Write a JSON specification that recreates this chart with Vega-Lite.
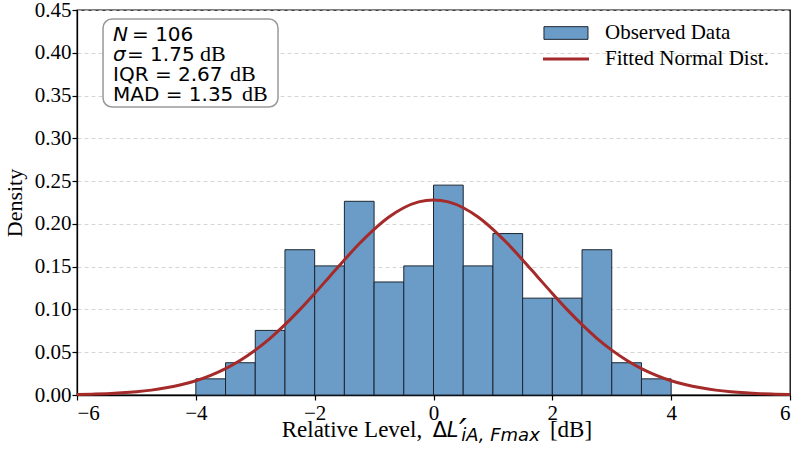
{
  "$schema": "https://vega.github.io/schema/vega-lite/v6.json",
  "width": 713,
  "height": 385,
  "autosize": {"type": "none"},
  "padding": {"left": 77, "top": 10, "right": 10, "bottom": 59},
  "background": "white",
  "config": {
    "view": {"stroke": "#000000", "strokeWidth": 1.3},
    "axis": {
      "labelFont": "Liberation Serif",
      "labelFontSize": 21,
      "labelColor": "#000000",
      "titleFont": "Liberation Serif",
      "titleFontSize": 22,
      "titleFontWeight": "normal",
      "titleColor": "#000000",
      "domainColor": "#000000",
      "domainWidth": 1.3,
      "tickColor": "#000000",
      "tickSize": 5,
      "tickWidth": 1.2
    }
  },
  "datasets": {
    "bins": [
      {"bin_start": -4.0, "bin_end": -3.5, "density": 0.0189},
      {"bin_start": -3.5, "bin_end": -3.0, "density": 0.0377},
      {"bin_start": -3.0, "bin_end": -2.5, "density": 0.0755},
      {"bin_start": -2.5, "bin_end": -2.0, "density": 0.1698},
      {"bin_start": -2.0, "bin_end": -1.5, "density": 0.1509},
      {"bin_start": -1.5, "bin_end": -1.0, "density": 0.2264},
      {"bin_start": -1.0, "bin_end": -0.5, "density": 0.1321},
      {"bin_start": -0.5, "bin_end": 0.0, "density": 0.1509},
      {"bin_start": 0.0, "bin_end": 0.5, "density": 0.2453},
      {"bin_start": 0.5, "bin_end": 1.0, "density": 0.1509},
      {"bin_start": 1.0, "bin_end": 1.5, "density": 0.1887},
      {"bin_start": 1.5, "bin_end": 2.0, "density": 0.1132},
      {"bin_start": 2.0, "bin_end": 2.5, "density": 0.1132},
      {"bin_start": 2.5, "bin_end": 3.0, "density": 0.1698},
      {"bin_start": 3.0, "bin_end": 3.5, "density": 0.0377},
      {"bin_start": 3.5, "bin_end": 4.0, "density": 0.0189}
    ],
    "curve": [
      {"x": -6.0, "pdf": 0.0006}, {"x": -5.75, "pdf": 0.0010}, {"x": -5.5, "pdf": 0.0016},
      {"x": -5.25, "pdf": 0.0025}, {"x": -5.0, "pdf": 0.0038}, {"x": -4.75, "pdf": 0.0057},
      {"x": -4.5, "pdf": 0.0084}, {"x": -4.25, "pdf": 0.0119}, {"x": -4.0, "pdf": 0.0167},
      {"x": -3.75, "pdf": 0.0230}, {"x": -3.5, "pdf": 0.0309}, {"x": -3.25, "pdf": 0.0407},
      {"x": -3.0, "pdf": 0.0525}, {"x": -2.75, "pdf": 0.0663}, {"x": -2.5, "pdf": 0.0822},
      {"x": -2.25, "pdf": 0.0998}, {"x": -2.0, "pdf": 0.1187}, {"x": -1.75, "pdf": 0.1383},
      {"x": -1.5, "pdf": 0.1579}, {"x": -1.25, "pdf": 0.1767}, {"x": -1.0, "pdf": 0.1936},
      {"x": -0.75, "pdf": 0.2080}, {"x": -0.5, "pdf": 0.2189}, {"x": -0.25, "pdf": 0.2257},
      {"x": 0.0, "pdf": 0.2280}, {"x": 0.25, "pdf": 0.2257}, {"x": 0.5, "pdf": 0.2189},
      {"x": 0.75, "pdf": 0.2080}, {"x": 1.0, "pdf": 0.1936}, {"x": 1.25, "pdf": 0.1767},
      {"x": 1.5, "pdf": 0.1579}, {"x": 1.75, "pdf": 0.1383}, {"x": 2.0, "pdf": 0.1187},
      {"x": 2.25, "pdf": 0.0998}, {"x": 2.5, "pdf": 0.0822}, {"x": 2.75, "pdf": 0.0663},
      {"x": 3.0, "pdf": 0.0525}, {"x": 3.25, "pdf": 0.0407}, {"x": 3.5, "pdf": 0.0309},
      {"x": 3.75, "pdf": 0.0230}, {"x": 4.0, "pdf": 0.0167}, {"x": 4.25, "pdf": 0.0119},
      {"x": 4.5, "pdf": 0.0084}, {"x": 4.75, "pdf": 0.0057}, {"x": 5.0, "pdf": 0.0038},
      {"x": 5.25, "pdf": 0.0025}, {"x": 5.5, "pdf": 0.0016}, {"x": 5.75, "pdf": 0.0010},
      {"x": 6.0, "pdf": 0.0006}
    ],
    "box": [{"x1": -5.562, "x2": -2.617, "y1": 0.3366, "y2": 0.4395}],
    "statsItalic": [
      {"x": -5.394, "y": 0.4137, "t": "N"},
      {"x": -5.394, "y": 0.3904, "t": "σ"}
    ],
    "statsMain": [
      {"x": -5.074, "y": 0.4137, "t": "= 106"},
      {"x": -5.159, "y": 0.3904, "t": "= 1.75"},
      {"x": -5.394, "y": 0.3671, "t": "IQR = 2.67"},
      {"x": -5.394, "y": 0.3437, "t": "MAD = 1.35"}
    ],
    "statsUnit": [
      {"x": -3.930, "y": 0.3904, "t": "dB"},
      {"x": -3.425, "y": 0.3671, "t": "dB"},
      {"x": -3.223, "y": 0.3437, "t": "dB"}
    ],
    "legPatch": [{"x1": 1.859, "x2": 2.600, "y1": 0.4157, "y2": 0.4305}],
    "legLine": [{"x": 1.842, "y": 0.3927}, {"x": 2.617, "y": 0.3927}],
    "legText": [
      {"x": 2.886, "y": 0.4161, "t": "Observed Data"},
      {"x": 2.886, "y": 0.3857, "t": "Fitted Normal Dist."}
    ],
    "titleSerif": [
      {"x": -2.555, "y": -0.0491, "t": "Relative Level,"},
      {"x": 1.960, "y": -0.0491, "t": "[dB]"}
    ],
    "titleDelta": [{"x": -0.014, "y": -0.0491, "t": "Δ"}],
    "titleL": [{"x": 0.222, "y": -0.0491, "t": "L"}],
    "titlePrime": [{"x": 0.43, "y": -0.0560, "t": "′"}],
    "titleSub": [{"x": 0.465, "y": -0.0540, "t": "iA, Fmax"}]
  },
  "layer": [
    {
      "data": {"name": "bins"},
      "mark": {"type": "rect", "fill": "#6b9cc8", "stroke": "#1c2530", "strokeWidth": 1},
      "encoding": {
        "x": {"field": "bin_start", "type": "quantitative",
              "scale": {"domain": [-6, 6], "nice": false, "zero": false},
              "axis": {"values": [-6, -4, -2, 0, 2, 4, 6], "format": "d", "grid": false, "title": null, "labelPadding": 2}},
        "x2": {"field": "bin_end"},
        "y": {"field": "density", "type": "quantitative",
              "scale": {"domain": [0, 0.45], "nice": false},
              "axis": {"values": [0, 0.05, 0.1, 0.15, 0.2, 0.25, 0.3, 0.35, 0.4, 0.45], "format": ".2f",
                       "grid": true, "gridColor": "#cccccc", "gridDash": [4, 3], "gridWidth": 0.8,
                       "title": "Density", "labelPadding": 1, "titlePadding": 8}},
        "y2": {"datum": 0}
      }
    },
    {
      "data": {"name": "curve"},
      "mark": {"type": "line", "color": "#a52a2a", "strokeWidth": 3, "interpolate": "monotone"},
      "encoding": {
        "x": {"field": "x", "type": "quantitative"},
        "y": {"field": "pdf", "type": "quantitative"}
      }
    },
    {
      "data": {"name": "box"},
      "mark": {"type": "rect", "fill": "white", "stroke": "#999999", "strokeWidth": 1.5, "cornerRadius": 9},
      "encoding": {
        "x": {"field": "x1", "type": "quantitative"},
        "x2": {"field": "x2"},
        "y": {"field": "y1", "type": "quantitative"},
        "y2": {"field": "y2"}
      }
    },
    {
      "data": {"name": "statsItalic"},
      "mark": {"type": "text", "font": "DejaVu Sans", "fontStyle": "italic", "fontSize": 20, "align": "left", "baseline": "alphabetic", "color": "#000000"},
      "encoding": {
        "x": {"field": "x", "type": "quantitative"},
        "y": {"field": "y", "type": "quantitative"},
        "text": {"field": "t"}
      }
    },
    {
      "data": {"name": "statsMain"},
      "mark": {"type": "text", "font": "DejaVu Sans", "fontSize": 20, "align": "left", "baseline": "alphabetic", "color": "#000000"},
      "encoding": {
        "x": {"field": "x", "type": "quantitative"},
        "y": {"field": "y", "type": "quantitative"},
        "text": {"field": "t"}
      }
    },
    {
      "data": {"name": "statsUnit"},
      "mark": {"type": "text", "font": "Liberation Serif", "fontSize": 22, "align": "left", "baseline": "alphabetic", "color": "#000000"},
      "encoding": {
        "x": {"field": "x", "type": "quantitative"},
        "y": {"field": "y", "type": "quantitative"},
        "text": {"field": "t"}
      }
    },
    {
      "data": {"name": "legPatch"},
      "mark": {"type": "rect", "fill": "#6b9cc8", "stroke": "#1c2530", "strokeWidth": 1},
      "encoding": {
        "x": {"field": "x1", "type": "quantitative"},
        "x2": {"field": "x2"},
        "y": {"field": "y1", "type": "quantitative"},
        "y2": {"field": "y2"}
      }
    },
    {
      "data": {"name": "legLine"},
      "mark": {"type": "line", "color": "#a52a2a", "strokeWidth": 3},
      "encoding": {
        "x": {"field": "x", "type": "quantitative"},
        "y": {"field": "y", "type": "quantitative"}
      }
    },
    {
      "data": {"name": "legText"},
      "mark": {"type": "text", "font": "Liberation Serif", "fontSize": 21, "align": "left", "baseline": "alphabetic", "color": "#000000"},
      "encoding": {
        "x": {"field": "x", "type": "quantitative"},
        "y": {"field": "y", "type": "quantitative"},
        "text": {"field": "t"}
      }
    },
    {
      "data": {"name": "titleSerif"},
      "mark": {"type": "text", "font": "Liberation Serif", "fontSize": 23, "align": "left", "baseline": "alphabetic", "color": "#000000"},
      "encoding": {
        "x": {"field": "x", "type": "quantitative"},
        "y": {"field": "y", "type": "quantitative"},
        "text": {"field": "t"}
      }
    },
    {
      "data": {"name": "titleDelta"},
      "mark": {"type": "text", "font": "DejaVu Sans", "fontSize": 21, "align": "left", "baseline": "alphabetic", "color": "#000000"},
      "encoding": {
        "x": {"field": "x", "type": "quantitative"},
        "y": {"field": "y", "type": "quantitative"},
        "text": {"field": "t"}
      }
    },
    {
      "data": {"name": "titleL"},
      "mark": {"type": "text", "font": "DejaVu Sans", "fontStyle": "italic", "fontSize": 21, "align": "left", "baseline": "alphabetic", "color": "#000000"},
      "encoding": {
        "x": {"field": "x", "type": "quantitative"},
        "y": {"field": "y", "type": "quantitative"},
        "text": {"field": "t"}
      }
    },
    {
      "data": {"name": "titlePrime"},
      "mark": {"type": "text", "font": "DejaVu Sans", "fontStyle": "italic", "fontSize": 34, "align": "left", "baseline": "alphabetic", "color": "#000000"},
      "encoding": {
        "x": {"field": "x", "type": "quantitative"},
        "y": {"field": "y", "type": "quantitative"},
        "text": {"field": "t"}
      }
    },
    {
      "data": {"name": "titleSub"},
      "mark": {"type": "text", "font": "DejaVu Sans", "fontStyle": "italic", "fontSize": 18, "align": "left", "baseline": "alphabetic", "color": "#000000"},
      "encoding": {
        "x": {"field": "x", "type": "quantitative"},
        "y": {"field": "y", "type": "quantitative"},
        "text": {"field": "t"}
      }
    }
  ]
}
